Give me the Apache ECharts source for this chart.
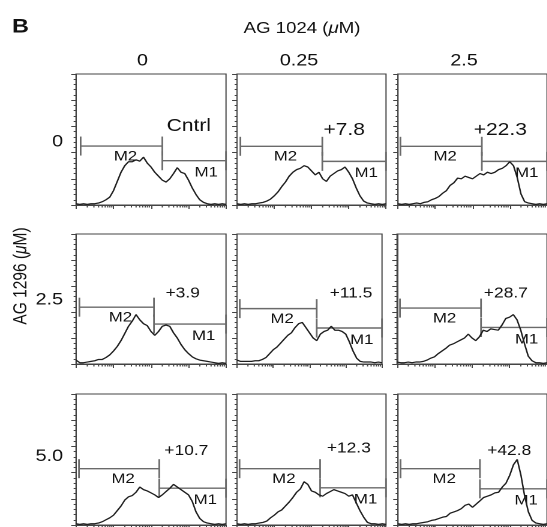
<!DOCTYPE html>
<html>
<head>
<meta charset="utf-8">
<script src="https://cdn.jsdelivr.net/npm/echarts@6/dist/echarts.min.js"></script>
<style>
  html, body { margin: 0; padding: 0; background: #fff; overflow: hidden; }
  /* the figure is drawn 1.2x narrower and stretched back horizontally */
  #chart { width: 455.83px; height: 527px; transform: scaleX(1.2); transform-origin: 0 0; }
</style>
</head>
<body>
<div id="chart"></div>
<script>
// ---- data ----------------------------------------------------------------
// fluorescence channel (log scale, 10 bins per decade)
const channels = [1, 1.259, 1.585, 1.995, 2.512, 3.162, 3.981, 5.012, 6.31, 7.943,
  10, 12.59, 15.85, 19.95, 25.12, 31.62, 39.81, 50.12, 63.1, 79.43,
  100, 125.9, 158.5, 199.5, 251.2, 316.2, 398.1, 501.2, 631, 794.3,
  1000, 1259, 1585, 1995, 2512, 3162, 3981, 5012, 6310, 7943, 10000];

const ag1024Doses = ['0', '0.25', '2.5'];   // columns
const ag1296Doses = ['0', '2.5', '5.0'];    // rows

// cell counts per channel, row = AG 1296 dose, column = AG 1024 dose
const counts_r0c0 = [1, 0.5, 1, 0.5, 1, 1, 1.5, 2.5, 4, 6, 11, 18, 25, 30, 33, 33, 34.5, 33.5, 36.5, 32,
  29, 25, 22, 19, 17.5, 20, 24, 28.5, 25, 24, 19, 13, 8, 4, 2, 1, 0.5, 1, 0.5, 1, 0.5];
const counts_r0c1 = [1, 0.5, 1, 0.5, 1, 1, 1.5, 2, 3, 4.5, 7, 10, 14, 17.5, 22, 25, 27, 28, 30, 29,
  26, 23, 25, 20, 18, 22, 24, 26, 27, 29, 25, 20, 13, 7, 3, 1.5, 1, 0.5, 1, 0.5, 1];
const counts_r0c2 = [1, 0.5, 1, 0.5, 1, 1.5, 1, 2, 2.5, 4, 5, 6.5, 9, 11, 15, 17, 20.5, 20, 22, 21,
  20, 22, 24, 23, 25, 24, 25, 27, 28, 30, 33, 30, 21, 8.5, 2.5, 1.5, 1, 0.5, 1, 0.5, 1];
const counts_r1c0 = [3, 1, 1, 1.5, 2, 2.5, 3.5, 3.5, 5, 7, 10, 13.5, 18, 23.5, 29, 33, 38, 34, 31, 29.5,
  25, 22, 25, 29, 30, 29, 24, 20, 15, 11, 8, 5.5, 4, 3, 2.5, 2, 1.5, 1, 0.5, 1, 0.5];
const counts_r1c1 = [3, 2, 2, 2, 2, 2.5, 2.5, 3.5, 5, 8, 11, 13, 16, 19, 22, 24, 28, 31, 32, 28,
  24, 20, 18, 23, 25, 26, 29, 26, 26, 25, 23, 17, 10, 4.5, 2, 1.5, 1.5, 1.5, 1, 1.5, 1];
const counts_r1c2 = [1.5, 1, 1, 1.5, 1, 1.5, 1.5, 2, 3, 4.5, 5.5, 8, 10, 12, 14.5, 15.5, 17, 18.5, 20, 23,
  20, 18, 21, 26, 25, 27, 26.5, 26, 30, 35, 36, 38, 34, 26, 15.5, 6, 2.5, 1, 1, 0.5, 1];
const counts_r2c0 = [1, 0.5, 1, 0.5, 1, 1, 1.5, 2.5, 4, 5.5, 7.5, 11, 14.5, 19, 21.5, 22.5, 25, 29, 27, 26,
  24.5, 23, 21, 23, 25.5, 28, 31, 29, 27, 25, 23, 18, 10, 5, 2.5, 1.5, 1, 0.5, 1, 0.5, 1];
const counts_r2c1 = [1, 0.5, 1, 0.5, 1, 1, 1.5, 2, 3, 5.5, 7.5, 10, 11.5, 14.5, 17.5, 21, 25, 27.5, 33, 31,
  26, 25, 23, 22, 24, 25.5, 27, 26, 25, 24, 22, 23, 17, 11, 6, 2, 1, 1, 0.5, 1, 0.5];
const counts_r2c2 = [1, 0.5, 1, 0.5, 1, 1, 1.5, 2, 2.5, 3.5, 4, 5, 6, 6.5, 9, 10, 11, 12.5, 15, 16,
  13.5, 16, 18.5, 21, 22, 23, 24.5, 25, 29, 32, 38, 46, 50, 38, 22, 10, 3.5, 1.5, 1, 0.5, 1];

// gates M2 (gateStart..gateSplit) and M1 (gateSplit..gateEnd), with their levels
const gateNames = ['M2', 'M1'];
const gateStart = [1.33, 1.23, 1.16, 1.23, 1.19, 1.2, 1.2, 1.17, 1.17];
const gateSplit = [200, 195, 178, 120, 158, 174, 166, 170, 158];
const gateEnd = 10000;
const m2Level = [45, 44.8, 44.8, 43.7, 42.6, 43, 43, 43, 43];
const m1Level = [33.8, 33.3, 33.3, 30.7, 27.7, 28.1, 28.1, 28.4, 27.6];

// change in M1 relative to control
const panelNotes = ['Cntrl', '+7.8', '+22.3', '+3.9', '+11.5', '+28.7', '+10.7', '+12.3', '+42.8'];

// log-axis minor tick values (2..9 in each decade)
const minorTickValues = [2, 3, 4, 5, 6, 7, 8, 9, 20, 30, 40, 50, 60, 70, 80, 90,
  200, 300, 400, 500, 600, 700, 800, 900, 2000, 3000, 4000, 5000, 6000, 7000, 8000, 9000];

// ---- layout --------------------------------------------------------------
const S = 1.2;                       // horizontal stretch of the figure
const FONT = "'Liberation Sans', Arial, Helvetica, sans-serif";
const FRAME = '#444';
const HIST = '#1e1e1e';
const GATE = '#6a6a6a';
const TEXT = '#111';

// panel rectangles [left, top, width, height] in page pixels
const panelRects = [
  [76, 74, 150, 131], [237, 74, 149, 131], [398, 74, 149, 131],
  [76, 234, 150, 130], [237, 234, 145, 130], [397, 234, 150, 130],
  [76, 394, 150, 131], [237, 394, 149, 131], [398, 394, 149, 131]
];
// centre of each panel note relative to the panel's top-left corner
const noteOffsets = [[112.8, 52.3], [107.2, 56], [102.3, 56], [106.7, 59.3], [114, 59.7],
  [108.8, 59.3], [110.3, 56.8], [111.8, 54.3], [111.2, 56.8]];

const allCounts = [counts_r0c0, counts_r0c1, counts_r0c2, counts_r1c0, counts_r1c1,
  counts_r1c2, counts_r2c0, counts_r2c1, counts_r2c2];

const option = {
  animation: false,
  backgroundColor: '#fff',
  grid: [], xAxis: [], yAxis: [], series: [], graphic: []
};

panelRects.forEach((r, k) => {
  option.grid.push({
    left: r[0] / S, top: r[1], width: r[2] / S, height: r[3],
    show: true, borderColor: FRAME, borderWidth: 1, backgroundColor: 'transparent'
  });
  option.xAxis.push({
    type: 'log', logBase: 10, gridIndex: k, min: 1, max: 10000,
    axisLine: { show: true, lineStyle: { color: FRAME, width: 1 } },
    axisTick: { show: true, length: 4, lineStyle: { color: FRAME } },
    axisLabel: { show: false }, splitLine: { show: false }
  });
  option.yAxis.push({
    type: 'value', gridIndex: k, min: 0, max: 100, interval: 20,
    axisLine: { show: true, lineStyle: { color: FRAME, width: 1 } },
    axisTick: { show: true, length: 4, lineStyle: { color: FRAME } },
    minorTick: { show: true, splitNumber: 5, length: 2, lineStyle: { color: FRAME } },
    axisLabel: { show: false }, splitLine: { show: false }, minorSplitLine: { show: false }
  });

  // histogram
  option.series.push({
    type: 'line', xAxisIndex: k, yAxisIndex: k, silent: true,
    showSymbol: false, symbol: 'none', smooth: false,
    lineStyle: { color: HIST, width: 1.25 },
    data: channels.map((c, i) => [c, allCounts[k][i]])
  });

  // minor ticks of the log axis
  option.series.push({
    type: 'custom', xAxisIndex: k, yAxisIndex: k, silent: true, clip: false,
    data: minorTickValues.map(v => [v, 0]),
    renderItem: (params, api) => {
      const p = api.coord([api.value(0), 0]);
      return { type: 'line', shape: { x1: p[0], y1: p[1], x2: p[0], y2: p[1] + 2.5 },
        style: { stroke: FRAME, lineWidth: 1 } };
    }
  });

  // M2 / M1 gate markers with their names
  option.series.push({
    type: 'custom', xAxisIndex: k, yAxisIndex: k, silent: true, clip: false,
    encode: { x: [0, 1], y: 2 },
    data: [[gateStart[k], gateSplit[k], m2Level[k]], [gateSplit[k], gateEnd, m1Level[k]]],
    renderItem: (params, api) => {
      const a = api.coord([api.value(0), api.value(2)]);
      const b = api.coord([api.value(1), api.value(2)]);
      const h = 9.5;
      const st = { stroke: GATE, lineWidth: 1.4 };
      const isM2 = params.dataIndex === 0;
      const frac = isM2 ? 0.55 : 0.69;
      const dy = isM2 ? 10.5 : 12;
      return {
        type: 'group',
        children: [
          { type: 'line', shape: { x1: a[0], y1: a[1], x2: b[0], y2: b[1] }, style: st },
          { type: 'line', shape: { x1: a[0], y1: a[1] - h, x2: a[0], y2: a[1] + h }, style: st },
          { type: 'line', shape: { x1: b[0], y1: b[1] - h, x2: b[0], y2: b[1] + h }, style: st },
          { type: 'text', style: {
              text: gateNames[params.dataIndex],
              x: a[0] + frac * (b[0] - a[0]), y: a[1] + dy,
              align: 'center', verticalAlign: 'middle',
              textAlign: 'center', textVerticalAlign: 'middle',
              font: '14px ' + FONT, fill: TEXT } }
        ]
      };
    }
  });

  // panel note
  const row = Math.floor(k / 3);
  option.graphic.push({
    type: 'text', silent: true,
    x: (r[0] + noteOffsets[k][0]) / S, y: r[1] + noteOffsets[k][1],
    style: {
      text: panelNotes[k], fill: TEXT,
      font: (row === 0 ? '17.5px ' : '14.5px ') + FONT,
      align: 'center', verticalAlign: 'middle', textAlign: 'center', textVerticalAlign: 'middle'
    }
  });
});

// panel letter and dose headings
const headX = [142.5, 299, 464];
const rowY = [142, 300, 456.5];
const centred = { align: 'center', verticalAlign: 'middle', textAlign: 'center', textVerticalAlign: 'middle' };

option.graphic.push({
  type: 'text', silent: true, x: 20.5 / S, y: 27,
  style: Object.assign({ text: 'B', font: 'bold 19.5px ' + FONT, fill: TEXT }, centred)
});
option.graphic.push({
  type: 'text', silent: true, x: 302 / S, y: 28.5,
  style: Object.assign({
    text: 'AG 1024 ({i|μ}M)', fontSize: 15.5, fontFamily: FONT, fill: TEXT,
    rich: { i: { fontStyle: 'italic', fontSize: 15.5, fontFamily: FONT, fill: TEXT } }
  }, centred)
});
ag1024Doses.forEach((d, j) => {
  option.graphic.push({
    type: 'text', silent: true, x: headX[j] / S, y: 61,
    style: Object.assign({ text: d, font: '16.5px ' + FONT, fill: TEXT }, centred)
  });
});
ag1296Doses.forEach((d, j) => {
  option.graphic.push({
    type: 'text', silent: true, x: 63 / S, y: rowY[j],
    style: { text: d, font: '16.5px ' + FONT, fill: TEXT,
      align: 'right', verticalAlign: 'middle', textAlign: 'right', textVerticalAlign: 'middle' }
  });
});
option.graphic.push({
  type: 'text', silent: true, x: 21 / S, y: 276, rotation: Math.PI / 2,
  style: Object.assign({
    text: 'AG 1296 ({i|μ}M)', fontSize: 15.5, fontFamily: FONT, fill: TEXT,
    rich: { i: { fontStyle: 'italic', fontSize: 15.5, fontFamily: FONT, fill: TEXT } }
  }, centred)
});

const chart = echarts.init(document.getElementById('chart'), null,
  { renderer: 'canvas', devicePixelRatio: 2 });
chart.setOption(option);
</script>
</body>
</html>
